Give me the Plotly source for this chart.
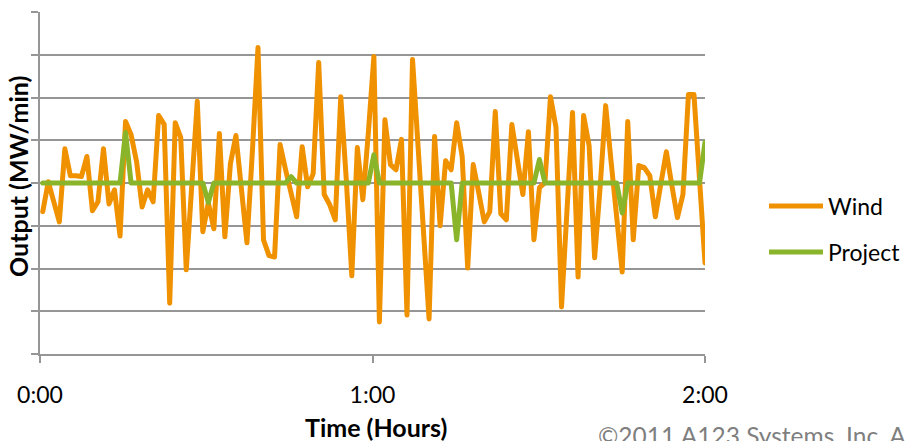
import plotly.graph_objects as go

# Sampling: one reading roughly every minute, first one half a minute in
SAMPLE_START_S = 30
SAMPLE_STEP_S = 59.75

# Wind ramp rate (MW/min), one value per sample
wind = [
    -0.67, 0.03, -0.44, -0.91, 0.80, 0.17, 0.17, 0.15, 0.62, -0.65,
    -0.44, 0.80, -0.49, -0.16, -1.24, 1.44, 1.13, 0.50, -0.56, -0.16,
    -0.44, 1.58, 1.37, -2.81, 1.41, 1.06, -2.03, -0.16, 1.91, -1.14,
    -0.46, -1.07, 1.16, -1.26, 0.45, 1.11, -0.13, -1.40, 0.78, 3.17,
    -1.33, -1.70, -1.73, 0.90, 0.31, -0.27, -0.79, 0.85, -0.09, 0.22,
    2.82, -0.27, -0.51, -0.86, 2.02, 0.08, -2.17, 0.83, -0.39, 1.18,
    2.96, -3.25, 1.48, 0.43, 0.31, 1.02, -3.09, 2.89, 0.92, -1.10,
    -3.18, 1.09, -1.00, 0.52, 0.31, 1.41, 0.62, -1.99, 0.43, -0.23,
    -0.91, -0.67, 1.67, -0.72, -0.86, 1.37, 0.55, -0.27, 1.20, -1.33,
    -0.11, 0.01, 2.02, 1.30, -2.90, -0.63, 1.65, -2.20, 1.58, 0.87,
    -1.75, -0.09, 1.81, 0.48, -0.86, -2.08, 1.44, -1.33, 0.41, 0.36,
    0.17, -0.79, -0.02, 0.73, -0.06, -0.81, -0.27, 2.07, 2.07, 0.08,
    -1.87,
]

# Project ramp rate (MW/min): held flat, stepping every 15 minutes
project = [0.0] * 121
project_steps = {15: 1.18, 30: -0.46, 45: 0.15, 60: 0.66, 75: -1.33,
                 90: 0.55, 105: -0.70, 120: 0.95}
for k, v in project_steps.items():
    project[k] = v

minutes = [(SAMPLE_START_S + k * SAMPLE_STEP_S) / 60 for k in range(len(wind))]

tick_vals = [0, 60, 120]
tick_text = ["0:00", "1:00", "2:00"]

ORANGE = "#F09100"
GREEN = "#8AB52A"
GRID = "#969696"
FONT = "Lato, 'Open Sans', sans-serif"
LINE_W = 5

W, H = 907, 441
L, R, T, B = 40, 202, 12, 87
PW, PH = W - L - R, H - T - B


def px_x(p):
    return (p - L) / PW


def px_y(p):
    return (H - B - p) / PH


fig = go.Figure()
fig.add_trace(go.Scatter(x=minutes, y=wind, mode="lines", name="Wind",
                         line=dict(color=ORANGE, width=LINE_W), showlegend=False))
fig.add_trace(go.Scatter(x=minutes, y=project, mode="lines", name="Project",
                         line=dict(color=GREEN, width=LINE_W), showlegend=False))

fig.update_layout(
    width=W, height=H,
    margin=dict(l=L, r=R, t=T, b=B, pad=0),
    paper_bgcolor="white", plot_bgcolor="white",
    font=dict(family=FONT, size=23, color="#000000"),
    xaxis=dict(range=[0, 120], tickvals=tick_vals, ticktext=tick_text,
               showgrid=False, zeroline=False, showline=True,
               linecolor=GRID, linewidth=2, ticks="outside", ticklen=7,
               tickwidth=2, tickcolor=GRID, ticklabelstandoff=12),
    yaxis=dict(range=[-4, 4], dtick=1, showticklabels=False,
               showgrid=True, gridcolor=GRID, gridwidth=2, zeroline=False,
               showline=True, linecolor=GRID, linewidth=2,
               ticks="outside", ticklen=7, tickwidth=2, tickcolor=GRID),
)

annotations = [
    dict(text="<b>Output (MW/min)</b>", textangle=-90, x=px_x(18), y=px_y(177),
         font=dict(size=25)),
    dict(text="<b>Time (Hours)</b>", x=px_x(376), y=px_y(427), font=dict(size=25)),
    dict(text="©2011 A123 Systems, Inc. All rights reserved.", x=px_x(596),
         y=px_y(435), xanchor="left", font=dict(size=24.5, color="#7F7F7F")),
]
for name, color, yc in [("Wind", ORANGE, 206), ("Project", GREEN, 252)]:
    fig.add_shape(type="line", xref="paper", yref="paper",
                  x0=px_x(769), x1=px_x(823), y0=px_y(yc), y1=px_y(yc),
                  line=dict(color=color, width=LINE_W))
    annotations.append(dict(text=name, x=px_x(826), y=px_y(yc), xanchor="left"))

for a in annotations:
    a.setdefault("xanchor", "center")
    fig.add_annotation(xref="paper", yref="paper", showarrow=False,
                       yanchor="middle", **a)

# Rounded joins and caps on the series lines
round_joins = (
    "document.querySelectorAll('.js-line').forEach(function(p){"
    "p.style.strokeLinejoin='round';p.style.strokeLinecap='round';});"
)
fig.write_html("out.html", post_script=round_joins)
